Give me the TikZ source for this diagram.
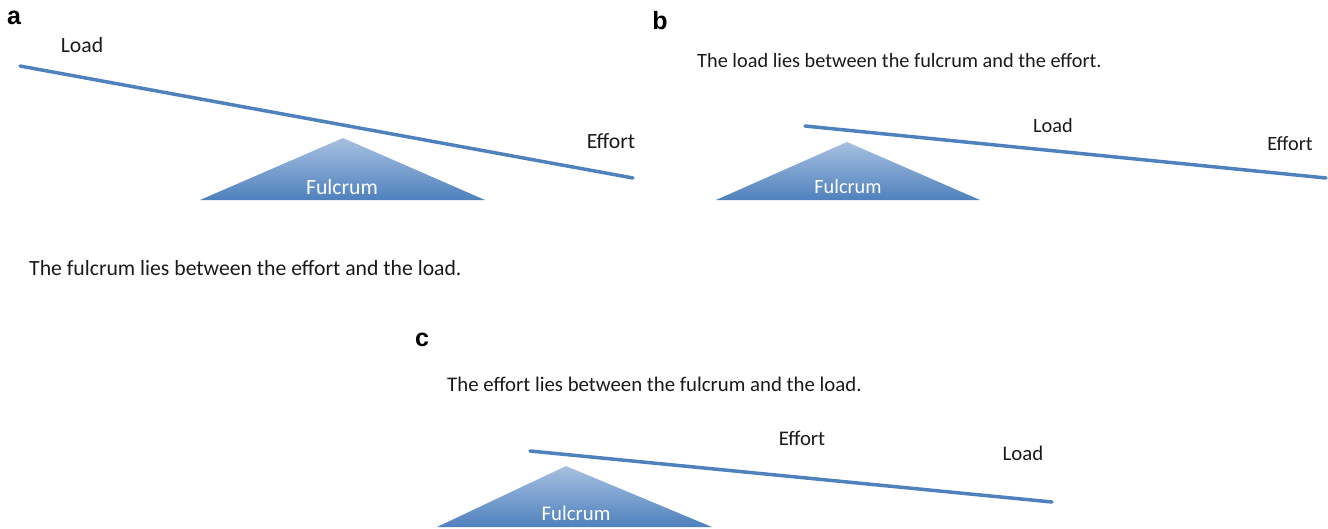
\documentclass[tikz,border=0pt]{standalone}
\usepackage{fontspec}
\setmainfont{Carlito}
\newfontfamily\panelfont{Liberation Sans}
\definecolor{levblue}{HTML}{4F81BD}
\definecolor{levlight}{HTML}{A7C0E0}
\definecolor{txt}{HTML}{1A1A1A}
\begin{document}
\begin{tikzpicture}[x=1pt,y=-1pt,
  lever/.style={draw=levblue,line width=3.5pt,line cap=round},
  fulc/.style={top color=levlight,bottom color=levblue,draw=none},
  fulctxt/.style={text=white,inner sep=0pt},
  lbl/.style={text=txt,inner sep=0pt},
  sent/.style={text=txt,inner sep=0pt,anchor=west},
  panel/.style={text=black,font=\panelfont\bfseries\fontsize{25}{29}\selectfont,inner sep=0pt},
  fa/.style={font=\fontsize{21.7}{25}\selectfont},
  fb/.style={font=\fontsize{20.3}{24}\selectfont},
  fc/.style={font=\fontsize{20.8}{24}\selectfont}]
\useasboundingbox (0,0) rectangle (1328,528);
% ---- panel a ----
\node[panel] (pa) at (14,18) {a};
\coordinate (a1) at (20,66);
\coordinate (a2) at (633,178);
\coordinate (aL) at (200,200);
\coordinate (aR) at (485,200);
\coordinate (aT) at (343,138);
\shade[fulc] (aL) -- (aT) -- (aR) -- cycle;
\draw[lever] (a1) -- (a2);
\node[fulctxt,fa] (af) at (342,187) {Fulcrum};
\node[lbl,fa] (aload) at (82,45) {Load};
\node[lbl,fa] (aeff) at (611,141) {Effort};
\node[sent,fa] (as) at (29,268) {The fulcrum lies between the effort and the load.};
% ---- panel b ----
\node[panel] (pb) at (660,21) {b};
\node[sent,fb] (bs) at (697,61) {The load lies between the fulcrum and the effort.};
\coordinate (b1) at (805,126);
\coordinate (b2) at (1326,178);
\coordinate (bL) at (716,200);
\coordinate (bR) at (980,200);
\coordinate (bT) at (847,142);
\shade[fulc] (bL) -- (bT) -- (bR) -- cycle;
\draw[lever] (b1) -- (b2);
\node[fulctxt,fb] (bf) at (848,187) {Fulcrum};
\node[lbl,fb] (bload) at (1053,126) {Load};
\node[lbl,fb] (beff) at (1290,144) {Effort};
% ---- panel c ----
\node[panel] (pc) at (422,340) {c};
\node[sent,fc] (cs) at (447,384) {The effort lies between the fulcrum and the load.};
\coordinate (c1) at (530,451);
\coordinate (c2) at (1052,502);
\coordinate (cL) at (437,527);
\coordinate (cR) at (712,527);
\coordinate (cT) at (566,466);
\shade[fulc] (cL) -- (cT) -- (cR) -- cycle;
\draw[lever] (c1) -- (c2);
\node[fulctxt,fc] (cf) at (576,513) {Fulcrum};
\node[lbl,fc] (ceff) at (802,438) {Effort};
\node[lbl,fc] (cload) at (1023,453) {Load};
\end{tikzpicture}
\end{document}
